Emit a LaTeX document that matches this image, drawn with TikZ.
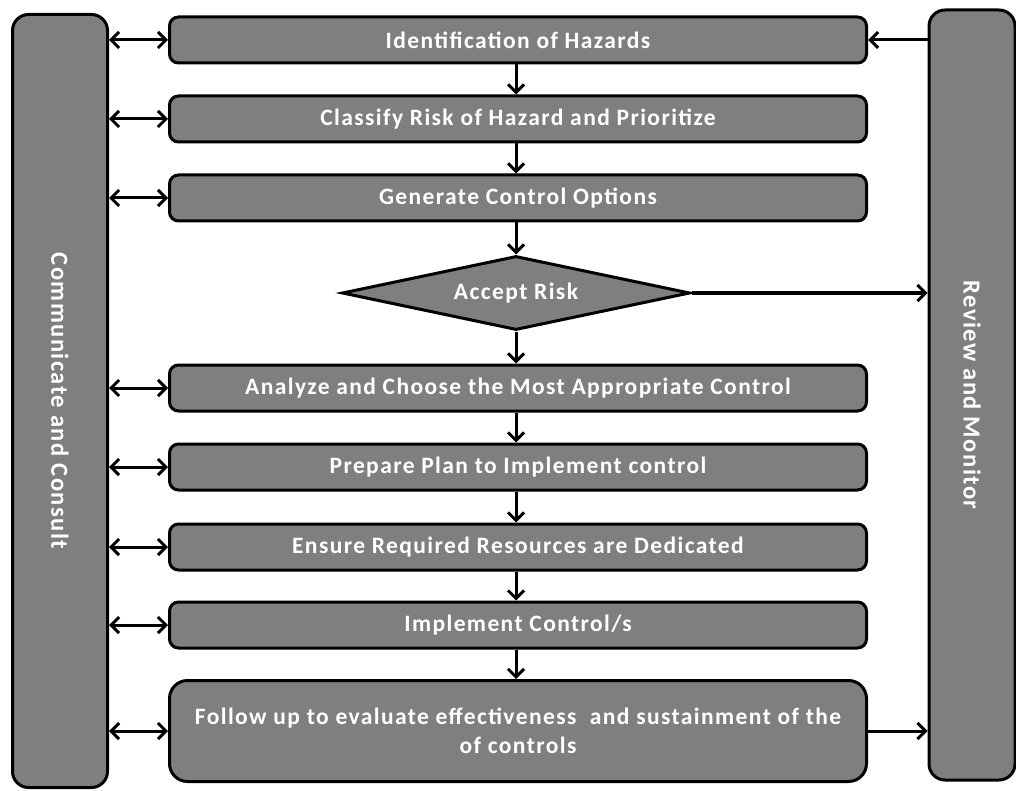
\documentclass[tikz,border=0pt]{standalone}
\usepackage{fontspec}
\setmainfont{Carlito}[LetterSpace=6]
\usetikzlibrary{shapes.geometric,arrows.meta}
\definecolor{boxgray}{HTML}{7F7F7F}
\tikzset{
  boxfont/.style={font=\bfseries\fontsize{23.5}{29}\selectfont},
  sidefont/.style={font=\bfseries\fontsize{24.5}{29}\selectfont},
  stepbox/.style={draw=black, line width=3pt, fill=boxgray, rounded corners=9pt,
    text=white, boxfont, align=center, inner sep=0pt},
  sidebox/.style={draw=black, line width=3pt, fill=boxgray, rounded corners=16pt, inner sep=0pt},
  sidetext/.style={rotate=-90, text=white, sidefont},
  tip/.style={Straight Barb[length=8pt,width=16pt,line width=3pt]},
  conn/.style={line width=3pt, -{Straight Barb[length=8pt,width=16pt,line width=3pt]}},
  dconn/.style={line width=3pt, {Straight Barb[length=8pt,width=16pt,line width=3pt]}-{Straight Barb[length=8pt,width=16pt,line width=3pt]}},
}
\begin{document}
\begin{tikzpicture}[x=1pt,y=-1pt]
\useasboundingbox (0,0) rectangle (1016,791);
% side columns
\node[sidebox, minimum width=95pt, minimum height=773pt] (cc) at (60,401) {};
\node[sidetext] (cct) at (cc.center) {Communicate and Consult};
\node[sidebox, minimum width=86pt, minimum height=770pt] (rm) at (972,395) {};
\node[sidetext] (rmt) at (rm.center) {Review and Monitor};
% steps
\node[stepbox, minimum width=697pt, minimum height=46pt] (b1) at (518,40) {Identification of Hazards};
\node[stepbox, minimum width=697pt, minimum height=46pt] (b2) at (518,119) {Classify Risk of Hazard and Prioritize};
\node[stepbox, minimum width=697pt, minimum height=46pt] (b3) at (518,198) {Generate Control Options};
\node[draw=black, line width=3pt, fill=boxgray, diamond, aspect=4.7, inner sep=0pt,
  minimum width=348pt, minimum height=74pt, text=white, boxfont] (d) at (516,293) {Accept Risk};
\node[stepbox, minimum width=697pt, minimum height=46pt] (b4) at (518,388) {Analyze and Choose the Most Appropriate Control};
\node[stepbox, minimum width=697pt, minimum height=46pt] (b5) at (518,467) {Prepare Plan to Implement control};
\node[stepbox, minimum width=697pt, minimum height=46pt] (b6) at (518,547) {Ensure Required Resources are Dedicated};
\node[stepbox, minimum width=697pt, minimum height=46pt] (b7) at (518,625) {Implement Control/s};
\node[stepbox, minimum width=697pt, minimum height=101pt, rounded corners=18pt] (b8) at (518,731) {Follow up to evaluate effectiveness\ \ and sustainment of the\\of controls};
% vertical flow
\draw[conn] (b1.south -| 516,0) -- (b2.north -| 516,0);
\draw[conn] (b2.south -| 516,0) -- (b3.north -| 516,0);
\draw[conn] (b3.south -| 516,0) -- (d.north);
\draw[conn] (d.south) -- (b4.north -| 516,0);
\draw[conn] (b4.south -| 516,0) -- (b5.north -| 516,0);
\draw[conn] (b5.south -| 516,0) -- (b6.north -| 516,0);
\draw[conn] (b6.south -| 516,0) -- (b7.north -| 516,0);
\draw[conn] (b7.south -| 516,0) -- (b8.north -| 516,0);
% left double arrows
\foreach \b in {b1,b2,b3,b4,b5,b6,b7,b8}{
  \draw[dconn] (cc.east |- \b.west) -- (\b.west);
}
% right arrows
\draw[conn] (rm.west |- b1.east) -- (b1.east);
\draw[conn] (d.east) -- (rm.west |- d.east);
\draw[conn] (b8.east) -- (rm.west |- b8.east);
\end{tikzpicture}
\end{document}
